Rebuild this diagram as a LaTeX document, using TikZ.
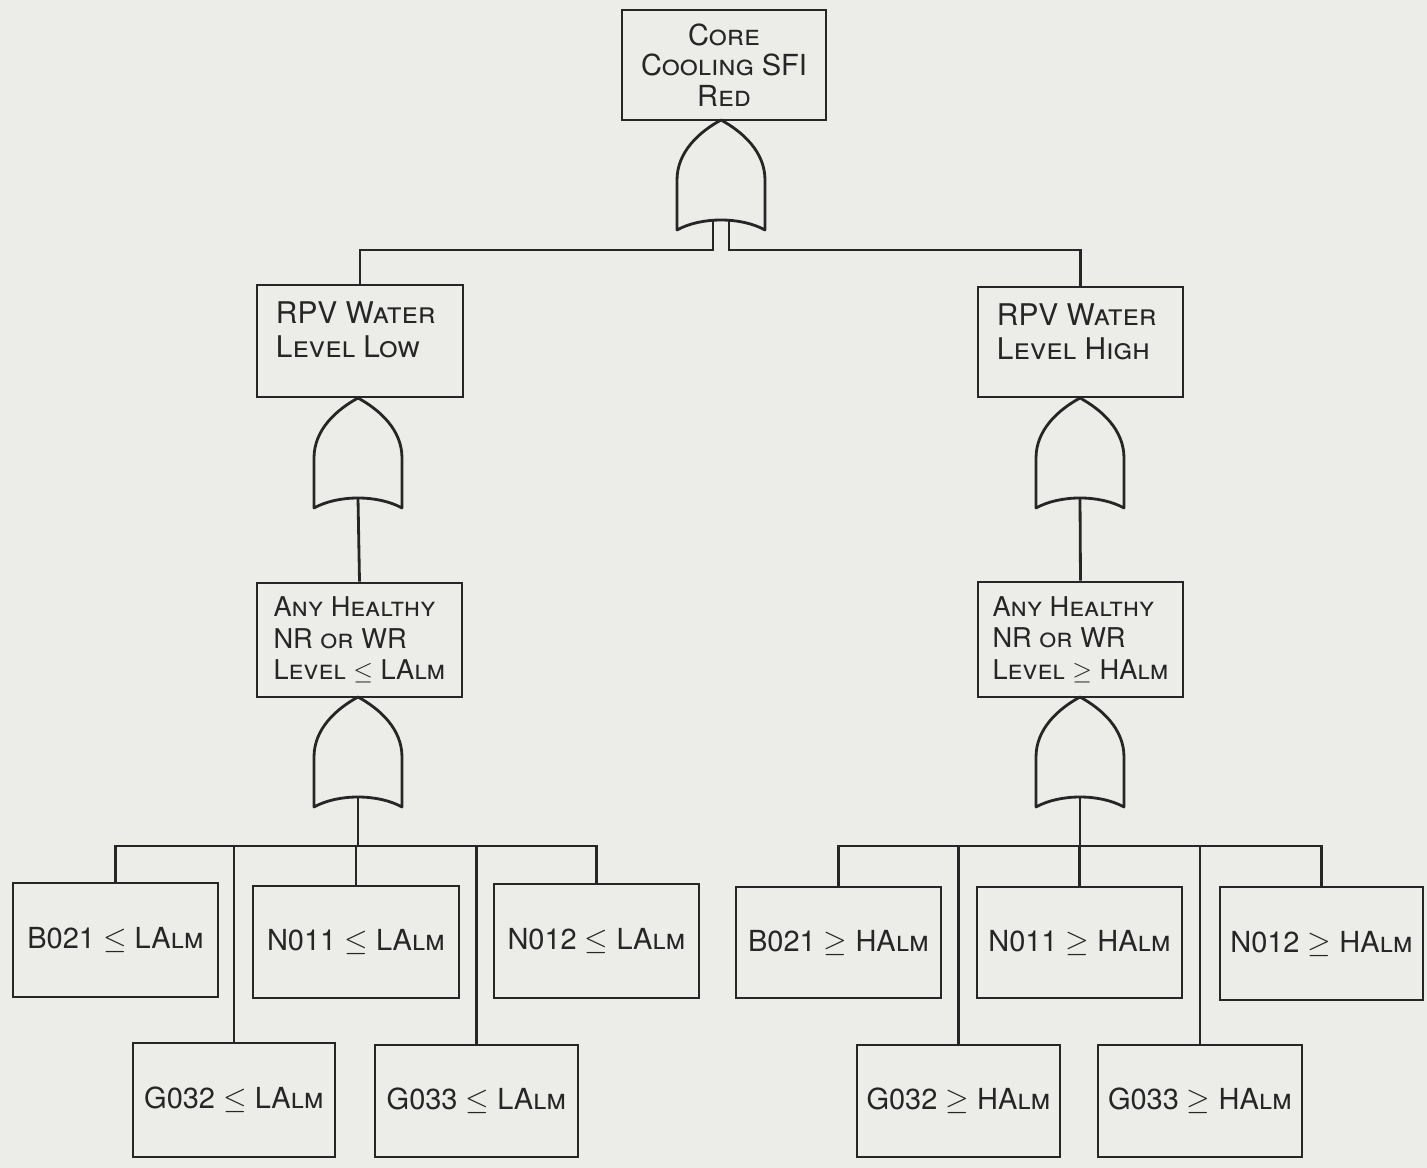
\documentclass[tikz,border=0pt]{standalone}
\usepackage{fontspec}
\setmainfont{TeX Gyre Heros}
\usetikzlibrary{calc}
\definecolor{paper}{RGB}{236,236,233}
\definecolor{ink}{RGB}{38,38,38}

\tikzset{
  event/.style 2 args={draw=ink, fill=paper, line width=1.6pt, inner sep=0pt,
    minimum width=#1*0.02cm, minimum height=#2*0.02cm, text=ink,
    font=\fontsize{16.5}{17.5}\selectfont\scshape},
  lbl/.style={inner sep=0pt, text=ink, align=left,
    font=\fontsize{17}{19}\selectfont\scshape},
  wire/.style={draw=ink, line width=1.6pt},
  orgate/.pic={
    \path[draw=ink, fill=paper, line width=1.6pt, line join=round]
      (-44,110) -- (-44,60) .. controls (-44,32) and (-22,12) .. (0,0)
      .. controls (22,12) and (44,32) .. (44,60) -- (44,110)
      .. controls (20,96.67) and (-20,96.67) .. (-44,110) -- cycle;
    \coordinate (-in) at (0,0);
    \coordinate (-out) at (0,100);
    \coordinate (-outl) at (-8,100.3);
    \coordinate (-outr) at (8,100.3);
  }
}

\begin{document}
\begin{tikzpicture}[x=0.02cm, y=-0.02cm]
  % sheet
  \fill[paper] (0,0) rectangle (1427,1168);
  \useasboundingbox (0,0) rectangle (1427,1168);

  % top event and its gate
  \node[event={204}{110}, align=center, font=\fontsize{16.5}{17.5}\selectfont\scshape] (top) at (724,65) {Core\\Cooling SFI\\Red};
  \pic (g1) at (721,120) {orgate};

  % second level events
  \node[event={206}{112}] (lowev) at (360,341) {};
  \node[lbl, anchor=north west] (lowev-t) at ($(lowev.north west)+(20,18)$) {RPV Water\\Level Low};
  \node[event={205}{110}] (highev) at (1080.5,342) {};
  \node[lbl, anchor=north west] (highev-t) at ($(highev.north west)+(20,18)$) {RPV Water\\Level High};

  \pic (g2l) at (358,398) {orgate};
  \pic (g2r) at (1080,398) {orgate};

  % third level events
  \node[event={205}{114}, align=left, font=\fontsize{15.5}{18}\selectfont\scshape] (anylow) at (359.5,640) {Any Healthy\\NR or WR\\Level $\le$ LAlm};
  \node[event={205}{115}, align=left, font=\fontsize{15.5}{18}\selectfont\scshape] (anyhigh) at (1080.5,639.5) {Any Healthy\\NR or WR\\Level $\ge$ HAlm};

  \pic (g3l) at (358,697) {orgate};
  \pic (g3r) at (1080,697) {orgate};

  % basic events, low side
  \node[event={205}{114}] (lb1) at (115.5,940) {B021 $\le$ LAlm};
  \node[event={206}{112}] (lb2) at (356,942) {N011 $\le$ LAlm};
  \node[event={205}{114}] (lb3) at (596.5,941) {N012 $\le$ LAlm};
  \node[event={202}{114}] (lb4) at (234,1100) {G032 $\le$ LAlm};
  \node[event={203}{112}] (lb5) at (476.5,1101) {G033 $\le$ LAlm};

  % basic events, high side
  \node[event={205}{111}] (hb1) at (838.5,942.5) {B021 $\ge$ HAlm};
  \node[event={205}{111}] (hb2) at (1079.5,942.5) {N011 $\ge$ HAlm};
  \node[event={203}{113}] (hb3) at (1321.5,943.5) {N012 $\ge$ HAlm};
  \node[event={203}{112}] (hb4) at (958.5,1101) {G032 $\ge$ HAlm};
  \node[event={204}{112}] (hb5) at (1200,1101) {G033 $\ge$ HAlm};

  % bus levels
  \coordinate (busT) at (0,250);
  \coordinate (busL) at (0,846);
  \coordinate (busR) at (0,846);

  % top gate output (open double stem) to second level
  \draw[wire] (lowev.north) |- (g1-outl |- busT) -- (g1-outl);
  \draw[wire] (highev.north) |- (g1-outr |- busT) -- (g1-outr);

  % second level gates to third level
  \draw[wire] (g2l-out) -- (anylow.north);
  \draw[wire] (g2r-out) -- (anyhigh.north);

  % low side fan-out
  \draw[wire] (g3l-out) -- (g3l-out |- busL);
  \draw[wire] (lb1.north) |- (lb3.north |- busL) -- (lb3.north);
  \draw[wire] (lb2.north) -- (lb2.north |- busL);
  \draw[wire] (lb4.north) -- (lb4.north |- busL);
  \draw[wire] (lb5.north) -- (lb5.north |- busL);

  % high side fan-out
  \draw[wire] (g3r-out) -- (g3r-out |- busR);
  \draw[wire] (hb1.north) |- (hb3.north |- busR) -- (hb3.north);
  \draw[wire] (hb2.north) -- (hb2.north |- busR);
  \draw[wire] (hb4.north) -- (hb4.north |- busR);
  \draw[wire] (hb5.north) -- (hb5.north |- busR);
\end{tikzpicture}
\end{document}
